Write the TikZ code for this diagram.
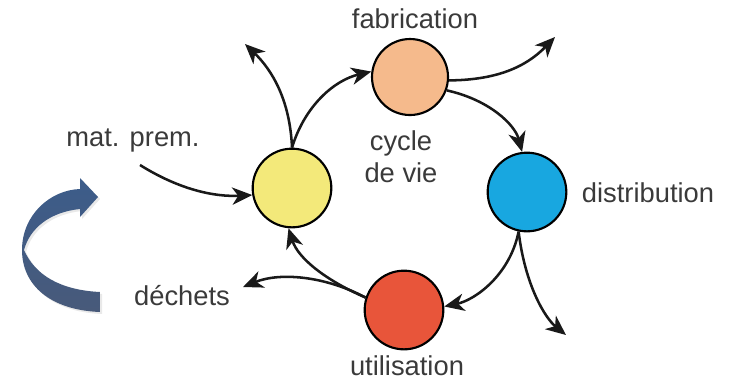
\documentclass[tikz,border=0pt]{standalone}
\usepackage{fontspec}
\setmainfont{Liberation Sans}
\usetikzlibrary{arrows.meta,positioning}

\definecolor{txtgray}{RGB}{58,58,58}
\definecolor{cyellow}{RGB}{243,233,122}
\definecolor{corange}{RGB}{245,186,140}
\definecolor{cblue}{RGB}{24,167,224}
\definecolor{cred}{RGB}{232,85,58}
\definecolor{bigtop}{RGB}{60,92,138}
\definecolor{bigbot}{RGB}{72,90,122}

\begin{document}
\begin{tikzpicture}[
    x=0.75pt, y=-0.75pt,
    % Define styles
    stage/.style={circle, draw, line width=1.6pt, minimum size=59pt, inner sep=0pt},
    label/.style={anchor=base, text=txtgray, font=\fontsize{20.5}{23.5}\selectfont},
    flow/.style={-{Stealth[length=15pt, width=13pt, inset=4.5pt]}, line width=1.9pt, black!90}
]
\useasboundingbox (0,0) rectangle (734,380);

% Stages
\node[stage, fill=cyellow] (extract) at (292,188) {};
\node[stage, fill=corange, minimum size=57pt] (fab) at (410,77) {};
\node[stage, fill=cblue] (distrib) at (527,192) {};
\node[stage, fill=cred] (util) at (404,310) {};

% Labels
\node[label] (fablbl) at (415,28) {fabrication};
\node[label] (distlbl) at (648,202) {distribution};
\node[label] (utillbl) at (407,375) {utilisation};
\node[label] (prem) at (133,146) {mat. prem.};
\node[label] (dechets) at (182,305) {déchets};
\node[label, align=center] (cycle) at (401,182) {cycle\\de vie};

% Free ends
\coordinate (out1) at (245,44);
\coordinate (out2) at (555,37);
\coordinate (out3) at (566,335);
\coordinate (waste) at (243,287);
\coordinate (premstart) at (140,165);

% Cycle
\draw[flow] (extract.north) .. controls (305,105) and (335,80) .. (fab.172);
\draw[flow] (fab.340) .. controls (490,100) and (515,125) .. (distrib.97);
\draw[flow] (distrib.258) .. controls (510,275) and (475,300) .. (util.5);
\draw[flow] (util.162) .. controls (325,280) and (298,258) .. (extract.265);

% Inputs and outputs
\draw[flow] (extract.north) .. controls (290,100) and (272,70) .. (out1);
\draw[flow] (fab.355) .. controls (495,80) and (525,68) .. (out2);
\draw[flow] (distrib.258) .. controls (525,285) and (545,318) .. (out3);
\draw[flow] (util.162) .. controls (325,276) and (280,272) .. (waste);
\draw[flow] (premstart) .. controls (180,190) and (215,197) .. (extract.190);

% Big curved arrow
\fill[black!25, opacity=0.35] (100,199) -- (82,219) -- (82,211)
  .. controls (52,214) and (32,230) .. (26,252)
  .. controls (37,277) and (62,292) .. (102,294) -- (102,314)
  .. controls (52,312) and (24,287) .. (24,252)
  .. controls (24,217) and (52,192) .. (82,191) -- (82,180) -- cycle;
\shade[top color=bigtop, bottom color=bigbot] (98,197) -- (80,217) -- (80,209)
  .. controls (50,212) and (30,228) .. (24,250)
  .. controls (35,275) and (60,290) .. (100,292) -- (100,312)
  .. controls (50,310) and (22,285) .. (22,250)
  .. controls (22,215) and (50,190) .. (80,189) -- (80,178) -- cycle;

\end{tikzpicture}
\end{document}
